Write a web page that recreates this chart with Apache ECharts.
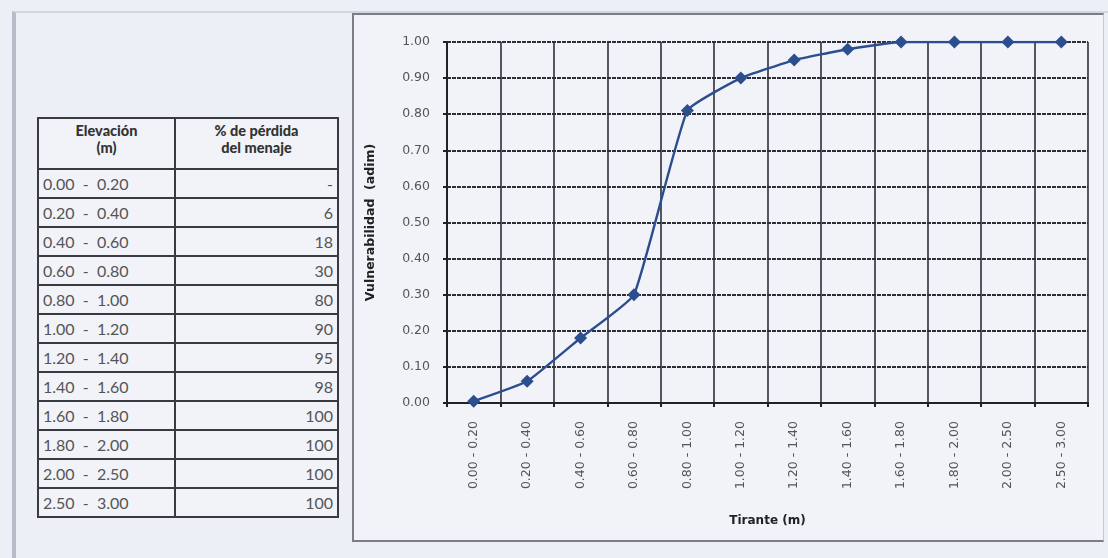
<!DOCTYPE html>
<html><head><meta charset="utf-8">
<script src="https://cdn.jsdelivr.net/npm/echarts@6/dist/echarts.min.js"></script>
<style>
html,body{margin:0;padding:0;background:#eceff6;width:1108px;height:558px;overflow:hidden;}
#frame{position:absolute;left:12px;top:11px;width:1096px;height:547px;border-left:4px solid #b9bcc6;border-top:2px solid #d3d6de;box-sizing:border-box;}
#panel{position:absolute;left:352px;top:13px;width:752px;height:529px;border:2px solid #7b7e88;border-right:1px solid #c6c9d2;background:#f1f3f9;box-sizing:border-box;}
#chart{position:absolute;left:0;top:0;width:1108px;height:558px;}
table{position:absolute;left:37px;top:117px;border-collapse:collapse;font-family:"Open Sans",Lato,sans-serif;background:#f1f3f9;}
td,th{border:2px solid #3a3b40;padding:0 4px;}
th{height:46px;font-size:14.5px;font-weight:900;color:#333;line-height:17px;font-family:Lato,"Open Sans",sans-serif;vertical-align:top;padding-top:3px;}
td{height:27px;font-size:16px;color:#555;font-family:Lato,"Open Sans",sans-serif;}
td.v{text-align:right;padding-right:4px;}
</style></head>
<body>
<div id="frame"></div>
<div id="panel"></div>
<div id="chart"></div>
<table id="tbl"></table>
<script>
const tableHeaders = ["Elevación<br>(m)", "% de pérdida<br>del menaje"];
const elevations = ["0.00  -  0.20","0.20  -  0.40","0.40  -  0.60","0.60  -  0.80","0.80  -  1.00","1.00  -  1.20","1.20  -  1.40","1.40  -  1.60","1.60  -  1.80","1.80  -  2.00","2.00  -  2.50","2.50  -  3.00"];
const lossPct = ["-","6","18","30","80","90","95","98","100","100","100","100"];
const categories = ["0.00 - 0.20","0.20 - 0.40","0.40 - 0.60","0.60 - 0.80","0.80 - 1.00","1.00 - 1.20","1.20 - 1.40","1.40 - 1.60","1.60 - 1.80","1.80 - 2.00","2.00 - 2.50","2.50 - 3.00"];
const vulnerability = [0.005,0.06,0.18,0.30,0.81,0.90,0.95,0.98,1.00,1.00,1.00,1.00];
const yAxisName = "Vulnerabilidad  (adim)";
const xAxisName = "Tirante (m)";

// build table
let html = '<tr><th style="width:127px">'+tableHeaders[0]+'</th><th style="width:153px">'+tableHeaders[1]+'</th></tr>';
for (let i=0;i<elevations.length;i++){
  html += '<tr><td style="white-space:pre">'+elevations[i]+'</td><td class="v">'+lossPct[i]+'</td></tr>';
}
document.getElementById('tbl').innerHTML = html;

const chart = echarts.init(document.getElementById('chart'));
chart.setOption({
  animation:false,
  grid:{left:447,right:20,top:42,bottom:155},
  xAxis:{
    type:'category', data:categories, boundaryGap:true,
    axisLine:{lineStyle:{color:'#222',width:2}},
    axisTick:{show:true,length:4,lineStyle:{color:'#222',width:2}},
    axisLabel:{rotate:90,fontSize:12.5,color:'#555',fontFamily:'"DejaVu Sans",Verdana,sans-serif',margin:18},
    splitLine:{show:true,lineStyle:{color:'#2e2f36',width:1.6}},
    name:xAxisName, nameLocation:'middle', nameGap:112,
    nameTextStyle:{fontSize:12,fontWeight:'bold',color:'#222',fontFamily:'"DejaVu Sans",Verdana,sans-serif'}
  },
  yAxis:{
    type:'value', min:0, max:1, interval:0.1,
    axisLine:{show:true,lineStyle:{color:'#222',width:2}},
    axisTick:{show:true,length:4,lineStyle:{color:'#222',width:2}},
    axisLabel:{formatter:v=>v.toFixed(2),fontSize:12.5,color:'#555',fontFamily:'"DejaVu Sans",Verdana,sans-serif',margin:17},
    splitLine:{show:true,lineStyle:{color:'#2e2f36',width:1.8,type:[4,1]}},
    name:yAxisName, nameLocation:'middle', nameGap:70,
    nameTextStyle:{fontSize:12.5,fontWeight:'bold',color:'#222',fontFamily:'"DejaVu Sans",Verdana,sans-serif'}
  },
  series:[{
    type:'line', data:vulnerability, smooth:0.12,
    symbol:'diamond', symbolSize:13,
    lineStyle:{color:'#2c4e8e',width:2.4},
    itemStyle:{color:'#2c4e8e'}
  }]
});
</script>
</body></html>
